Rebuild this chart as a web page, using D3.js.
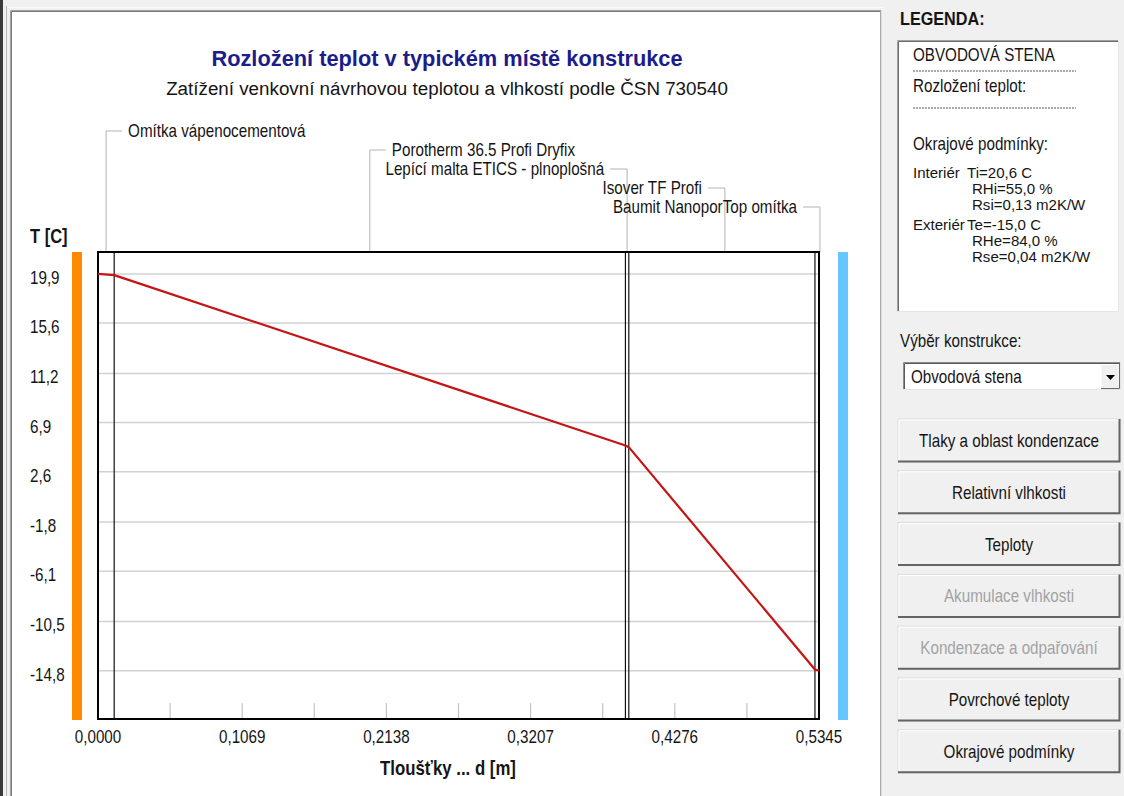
<!DOCTYPE html>
<html>
<head>
<meta charset="utf-8">
<script src="https://cdn.jsdelivr.net/npm/d3@7"></script>
<style>
  body { margin: 0; background: #f0f0f0; overflow: hidden; }
  svg { display: block; }
</style>
</head>
<body>
<svg id="chart" width="1124" height="796"></svg>
<script>
// ---- Wall composition (interior -> exterior) ----
const layerNames = [
  "Omítka vápenocementová",
  "Porotherm 36.5 Profi Dryfix",
  "Lepící malta ETICS - plnoplošná",
  "Isover TF Profi",
  "Baumit NanoporTop omítka"
];
const layerThickness = [0.012, 0.379, 0.0025, 0.138, 0.003]; // m

// Temperature at each layer boundary (surfaces included), °C
const boundaryTemp = [19.9, 19.8, 4.9, 4.75, -14.7, -14.8];

// Axis ticks
const xTickValues = [0, 0.1069, 0.2138, 0.3207, 0.4276, 0.5345];
const xTickLabels = ["0,0000", "0,1069", "0,2138", "0,3207", "0,4276", "0,5345"];
const yTickValues = [19.9, 15.6, 11.2, 6.9, 2.6, -1.8, -6.1, -10.5, -14.8];
const yTickLabels = ["19,9", "15,6", "11,2", "6,9", "2,6", "-1,8", "-6,1", "-10,5", "-14,8"];

// Side panel content
const legendTitle = "OBVODOVÁ STENA";
const legendSubtitle = "Rozložení teplot:";
const legendConditions = "Okrajové podmínky:";
const interiorLines = ["Ti=20,6 C", "RHi=55,0 %", "Rsi=0,13 m2K/W"];
const exteriorLines = ["Te=-15,0 C", "RHe=84,0 %", "Rse=0,04 m2K/W"];
const buttonLabels = [
  "Tlaky a oblast kondenzace", "Relativní vlhkosti", "Teploty",
  "Akumulace vlhkosti", "Kondenzace a odpařování",
  "Povrchové teploty", "Okrajové podmínky"
];
const buttonEnabled = [true, true, true, false, false, true, true];

// ---- Fonts ----
const UI = "'Liberation Sans', Arial, sans-serif";
const UIS = 15.2;      // dialog font size
const VS = 1.17;       // dialog glyphs are taller than they are wide
const INK = "#151515";

// Place a text element at (x, y) with a stretch (sx, sy)
const at = (xf, yf, sy = VS, sx = 1) => (d, i) =>
  `translate(${typeof xf === "function" ? xf(d, i) : xf},${typeof yf === "function" ? yf(d, i) : yf}) scale(${sx},${sy})`;

const svg = d3.select("#chart");

// ---- Window chrome ----
svg.append("rect").attr("width", 1124).attr("height", 796).attr("fill", "#f0f0f0");
svg.append("line").attr("x1", 1.5).attr("x2", 1.5).attr("y1", 0).attr("y2", 796)
  .attr("stroke", "#3a3a3a").attr("stroke-width", 3);
svg.append("line").attr("x1", 6.5).attr("x2", 6.5).attr("y1", 6).attr("y2", 796)
  .attr("stroke", "#b8b8b8");
svg.append("line").attr("x1", 7).attr("x2", 884).attr("y1", 7.5).attr("y2", 7.5)
  .attr("stroke", "#fafafa");

// Chart panel
svg.append("rect").attr("x", 10).attr("y", 10).attr("width", 872).attr("height", 800)
  .attr("fill", "#ffffff");
svg.append("path").attr("d", "M10.5,796V10.5H881").attr("fill", "none")
  .attr("stroke", "#a0a0a0");
svg.append("path").attr("d", "M11.5,796V11.5H880").attr("fill", "none")
  .attr("stroke", "#7a7a7a");
svg.append("line").attr("x1", 880.5).attr("x2", 880.5).attr("y1", 11).attr("y2", 796)
  .attr("stroke", "#a8a8a8");
svg.append("line").attr("x1", 881.5).attr("x2", 881.5).attr("y1", 10).attr("y2", 796)
  .attr("stroke", "#dedede");

// ---- Plot area ----
const plot = { left: 98, right: 819, top: 252, bottom: 719 };
const totalThickness = d3.sum(layerThickness);
const x = d3.scaleLinear().domain([0, totalThickness]).range([plot.left, plot.right]);
const y = d3.scaleLinear().domain([-19.03, 21.82]).range([plot.bottom, plot.top]);

const boundaries = [0, ...d3.cumsum(layerThickness)];

// Titles
svg.append("text").attr("x", 447).attr("y", 66).attr("text-anchor", "middle")
  .attr("font-family", UI).attr("font-weight", "bold").attr("font-size", 21.8)
  .attr("fill", "#1c1c8c").text("Rozložení teplot v typickém místě konstrukce");
svg.append("text").attr("x", 447).attr("y", 95).attr("text-anchor", "middle")
  .attr("font-family", UI).attr("font-size", 18.8)
  .attr("fill", INK).text("Zatížení venkovní návrhovou teplotou a vlhkostí podle ČSN 730540");

// Boundary-condition colour strips (interior / exterior)
svg.append("rect").attr("x", 72).attr("y", plot.top).attr("width", 10)
  .attr("height", plot.bottom - plot.top + 1).attr("fill", "#ff8a00");
svg.append("rect").attr("x", 838).attr("y", plot.top).attr("width", 10)
  .attr("height", plot.bottom - plot.top + 1).attr("fill", "#66c6ff");

// Horizontal grid
svg.append("g").selectAll("line").data(yTickValues).join("line")
  .attr("x1", plot.left).attr("x2", plot.right)
  .attr("y1", d => y(d)).attr("y2", d => y(d))
  .attr("stroke", "#d2d2d2").attr("stroke-width", 1.5);

// Y tick labels
svg.append("g").selectAll("text").data(yTickValues).join("text")
  .attr("transform", at(30, d => y(d) + 10))
  .attr("font-family", UI).attr("font-size", UIS).attr("fill", INK)
  .text((d, i) => yTickLabels[i]);

svg.append("text").attr("transform", at(30, 243))
  .attr("font-family", UI).attr("font-weight", "bold").attr("font-size", 16.5)
  .attr("fill", INK).text("T [C]");

// Bottom minor ticks (every half label step)
const minorTicks = d3.range(1, 10).map(i => (xTickValues[1] / 2) * i);
svg.append("g").selectAll("line").data(minorTicks).join("line")
  .attr("x1", d => x(d)).attr("x2", d => x(d))
  .attr("y1", plot.bottom - 16).attr("y2", plot.bottom)
  .attr("stroke", "#c4c4c4").attr("stroke-width", 1.2);

// X tick labels
svg.append("g").selectAll("text").data(xTickValues).join("text")
  .attr("transform", at(d => x(d), 743)).attr("text-anchor", "middle")
  .attr("font-family", UI).attr("font-size", UIS).attr("fill", INK)
  .text((d, i) => xTickLabels[i]);

svg.append("text").attr("transform", at(448, 775)).attr("text-anchor", "middle")
  .attr("font-family", UI).attr("font-weight", "bold").attr("font-size", 16.8)
  .attr("fill", INK).text("Tloušťky ... d [m]");

// Layer labels with leader lines
const midX = (plot.left + plot.right) / 2;
const labels = svg.append("g");
layerNames.forEach((name, i) => {
  const cx = x((boundaries[i] + boundaries[i + 1]) / 2) + (i >= 3 ? 3 : 0);
  const ly = 131 + i * 19;
  const right = cx < midX;
  labels.append("path")
    .attr("d", right
      ? `M${cx},${plot.top}V${ly}H${cx + 16}`
      : `M${cx},${plot.top}V${ly}H${cx - 17}`)
    .attr("fill", "none").attr("stroke", "#b4b4b4").attr("stroke-width", 1);
  labels.append("text")
    .attr("transform", at(right ? cx + 22 : cx - 23, ly + 6))
    .attr("text-anchor", right ? "start" : "end")
    .attr("font-family", UI).attr("font-size", UIS).attr("fill", INK)
    .text(name);
});

// Layer interfaces
svg.append("g").selectAll("line").data(boundaries.slice(1, -1)).join("line")
  .attr("x1", d => x(d)).attr("x2", d => x(d))
  .attr("y1", plot.top).attr("y2", plot.bottom)
  .attr("stroke", "#111").attr("stroke-width", 1.2);

// Plot frame
svg.append("rect").attr("x", plot.left).attr("y", plot.top)
  .attr("width", plot.right - plot.left).attr("height", plot.bottom - plot.top)
  .attr("fill", "none").attr("stroke", "#000").attr("stroke-width", 2);

// Temperature profile
const line = d3.line().x(d => x(d[0])).y(d => y(d[1]));
svg.append("path")
  .datum(boundaries.map((b, i) => [b, boundaryTemp[i]]))
  .attr("d", line).attr("fill", "none")
  .attr("stroke", "#c41414").attr("stroke-width", 2.2).attr("stroke-linejoin", "round");

// ---- Side panel ----
const side = svg.append("g");
side.append("text").attr("transform", at(900, 25))
  .attr("font-family", UI).attr("font-weight", "bold").attr("font-size", 16.2)
  .attr("fill", INK).text("LEGENDA:");

// Legend box (sunken)
side.append("rect").attr("x", 897).attr("y", 40).attr("width", 222).attr("height", 272)
  .attr("fill", "#fff");
side.append("path").attr("d", "M897.5,312V40.5H1119").attr("fill", "none").attr("stroke", "#a0a0a0");
side.append("path").attr("d", "M898.5,311V41.5H1118").attr("fill", "none").attr("stroke", "#6c6c6c");
side.append("path").attr("d", "M897,311.5H1118.5V40").attr("fill", "none").attr("stroke", "#e6e6e6");

const txt = (xx, yy, s, size = UIS, sy = VS, sx = 1) => side.append("text")
  .attr("transform", at(xx, yy, sy, sx))
  .attr("font-family", UI).attr("font-size", size).attr("fill", INK).text(s);

txt(913, 61, legendTitle);
side.append("line").attr("x1", 913).attr("x2", 1076).attr("y1", 71).attr("y2", 71)
  .attr("stroke", "#555").attr("stroke-dasharray", "2,1");
txt(913, 92, legendSubtitle);
side.append("line").attr("x1", 913).attr("x2", 1076).attr("y1", 108).attr("y2", 108)
  .attr("stroke", "#555").attr("stroke-dasharray", "2,1");
txt(913, 150, legendConditions);

// Boundary conditions: compact rows
const condSize = 14.2, condSY = 1.0, condSX = 1.06, condStep = 16;
txt(913, 178, "Interiér", condSize, condSY, condSX);
interiorLines.forEach((s, i) => txt(i === 0 ? 967 : 972, 178 + i * condStep, s, condSize, condSY, condSX));
txt(913, 230, "Exteriér", condSize, condSY, condSX);
exteriorLines.forEach((s, i) => txt(i === 0 ? 967 : 972, 230 + i * condStep, s, condSize, condSY, condSX));

txt(900, 347, "Výběr konstrukce:");

// Combo box
side.append("rect").attr("x", 903).attr("y", 362).attr("width", 218).attr("height", 28)
  .attr("fill", "#fff");
side.append("path").attr("d", "M903.5,390V362.5H1121").attr("fill", "none").attr("stroke", "#8a8a8a");
side.append("path").attr("d", "M904.5,389V363.5H1120").attr("fill", "none").attr("stroke", "#5a5a5a");
side.append("path").attr("d", "M903,389.5H1120.5V362").attr("fill", "none").attr("stroke", "#e4e4e4");
txt(911, 383, "Obvodová stena");
side.append("rect").attr("x", 1101).attr("y", 364.5).attr("width", 18).attr("height", 24)
  .attr("fill", "#f0f0f0").attr("stroke", "#fff");
side.append("path").attr("d", "M1101,388.5H1119.5V364").attr("fill", "none").attr("stroke", "#6a6a6a");
side.append("path").attr("d", "M1106,375H1115L1110.5,380Z").attr("fill", "#000");

// Buttons
const btn = side.append("g").selectAll("g").data(buttonLabels).join("g")
  .attr("transform", (d, i) => `translate(898,${419 + i * 51.8})`);
btn.append("rect").attr("width", 222).attr("height", 43)
  .attr("fill", "#f0f0f0").attr("stroke", "#dadada");
btn.append("path").attr("d", "M1,42V1H221").attr("fill", "none").attr("stroke", "#ffffff");
btn.append("path").attr("d", "M0,42.5H221.5V0").attr("fill", "none")
  .attr("stroke", "#646464").attr("stroke-width", 2);
btn.append("text").attr("transform", at(111, 28)).attr("text-anchor", "middle")
  .attr("font-family", UI).attr("font-size", UIS)
  .attr("fill", (d, i) => buttonEnabled[i] ? INK : "#a3a3a3")
  .text(d => d);
</script>
</body>
</html>
